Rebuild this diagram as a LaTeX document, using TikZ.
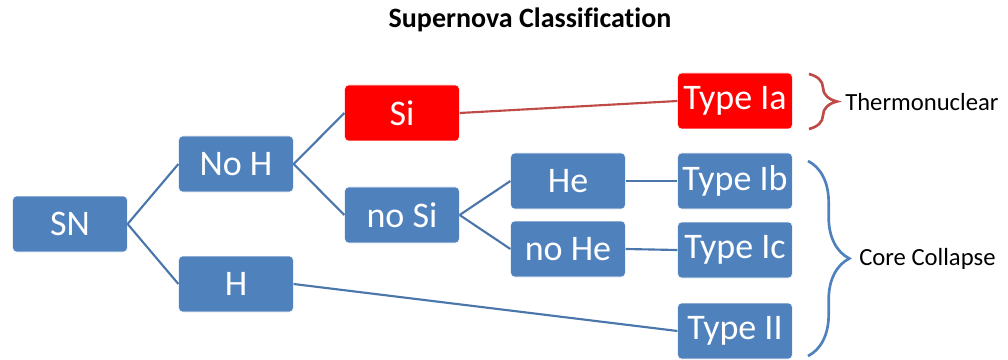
\documentclass[tikz,border=0pt]{standalone}
\usepackage{fontspec}
\setmainfont{Carlito}[Ligatures=NoCommon]
\usetikzlibrary{decorations.pathreplacing}
\definecolor{boxblue}{HTML}{4F81BD}
\definecolor{lineblue}{HTML}{4A76AC}
\definecolor{linered}{HTML}{BE4B48}
\begin{document}
\begin{tikzpicture}[x=0.75pt,y=-0.75pt,
		every node/.style={draw=white,fill=boxblue,text=white,rounded corners=3pt,
			minimum width=86pt,minimum height=42pt,inner sep=0pt,
			font=\fontsize{27}{31}\selectfont},
		hot/.style={fill=red},
		plain/.style={draw=none,fill=none,text=black,minimum width=0pt,minimum height=0pt}]
		\useasboundingbox (0,0) rectangle (1008,360);
		\node[plain,font=\fontsize{21}{25}\selectfont\bfseries] (title) at (530,20) {Supernova Classification};

		\node (sn)   at (70,224)  {SN};
		\node (noh)  at (236,164) {No H};
		\node (h)    at (236,284) {H};
		\node[hot] (si) at (402,113) {Si};
		\node (nosi) at (402,215) {no Si};
		\node (he)   at (568,181) {He};
		\node (nohe) at (568,249) {no He};
		\node[hot] (tia) at (735,101) {Type Ia};
		\node (tib)  at (735,181) {Type Ib};
		\node (tic)  at (735,250) {Type Ic};
		\node (tii)  at (735,331) {Type II};

		\foreach \from/\to in {sn/noh,sn/h,noh/si,noh/nosi,nosi/he,nosi/nohe,he/tib,nohe/tic,h/tii}
			\draw [lineblue, line width=1.6pt] (\from.east) -- (\to.west);
		\draw [linered, line width=1.6pt] (si.east) -- (tia.west);

		% braces
		\coordinate (r1) at (809,74);
		\coordinate (r2) at (809,129);
		\coordinate (b1) at (808,161);
		\coordinate (b2) at (808,356);
		\draw [linered, line width=2pt, decorate, decoration={brace,amplitude=21pt}] (r1) -- (r2);
		\draw [boxblue, line width=2pt, decorate, decoration={brace,amplitude=31pt}] (b1) -- (b2);
		\node[plain,anchor=west,font=\fontsize{18.5}{22}\selectfont] (thermo) at (845,102) {Thermonuclear};
		\node[plain,anchor=west,font=\fontsize{18.5}{22}\selectfont] (core) at (859,259) {Core Collapse};
	\end{tikzpicture}
\end{document}
